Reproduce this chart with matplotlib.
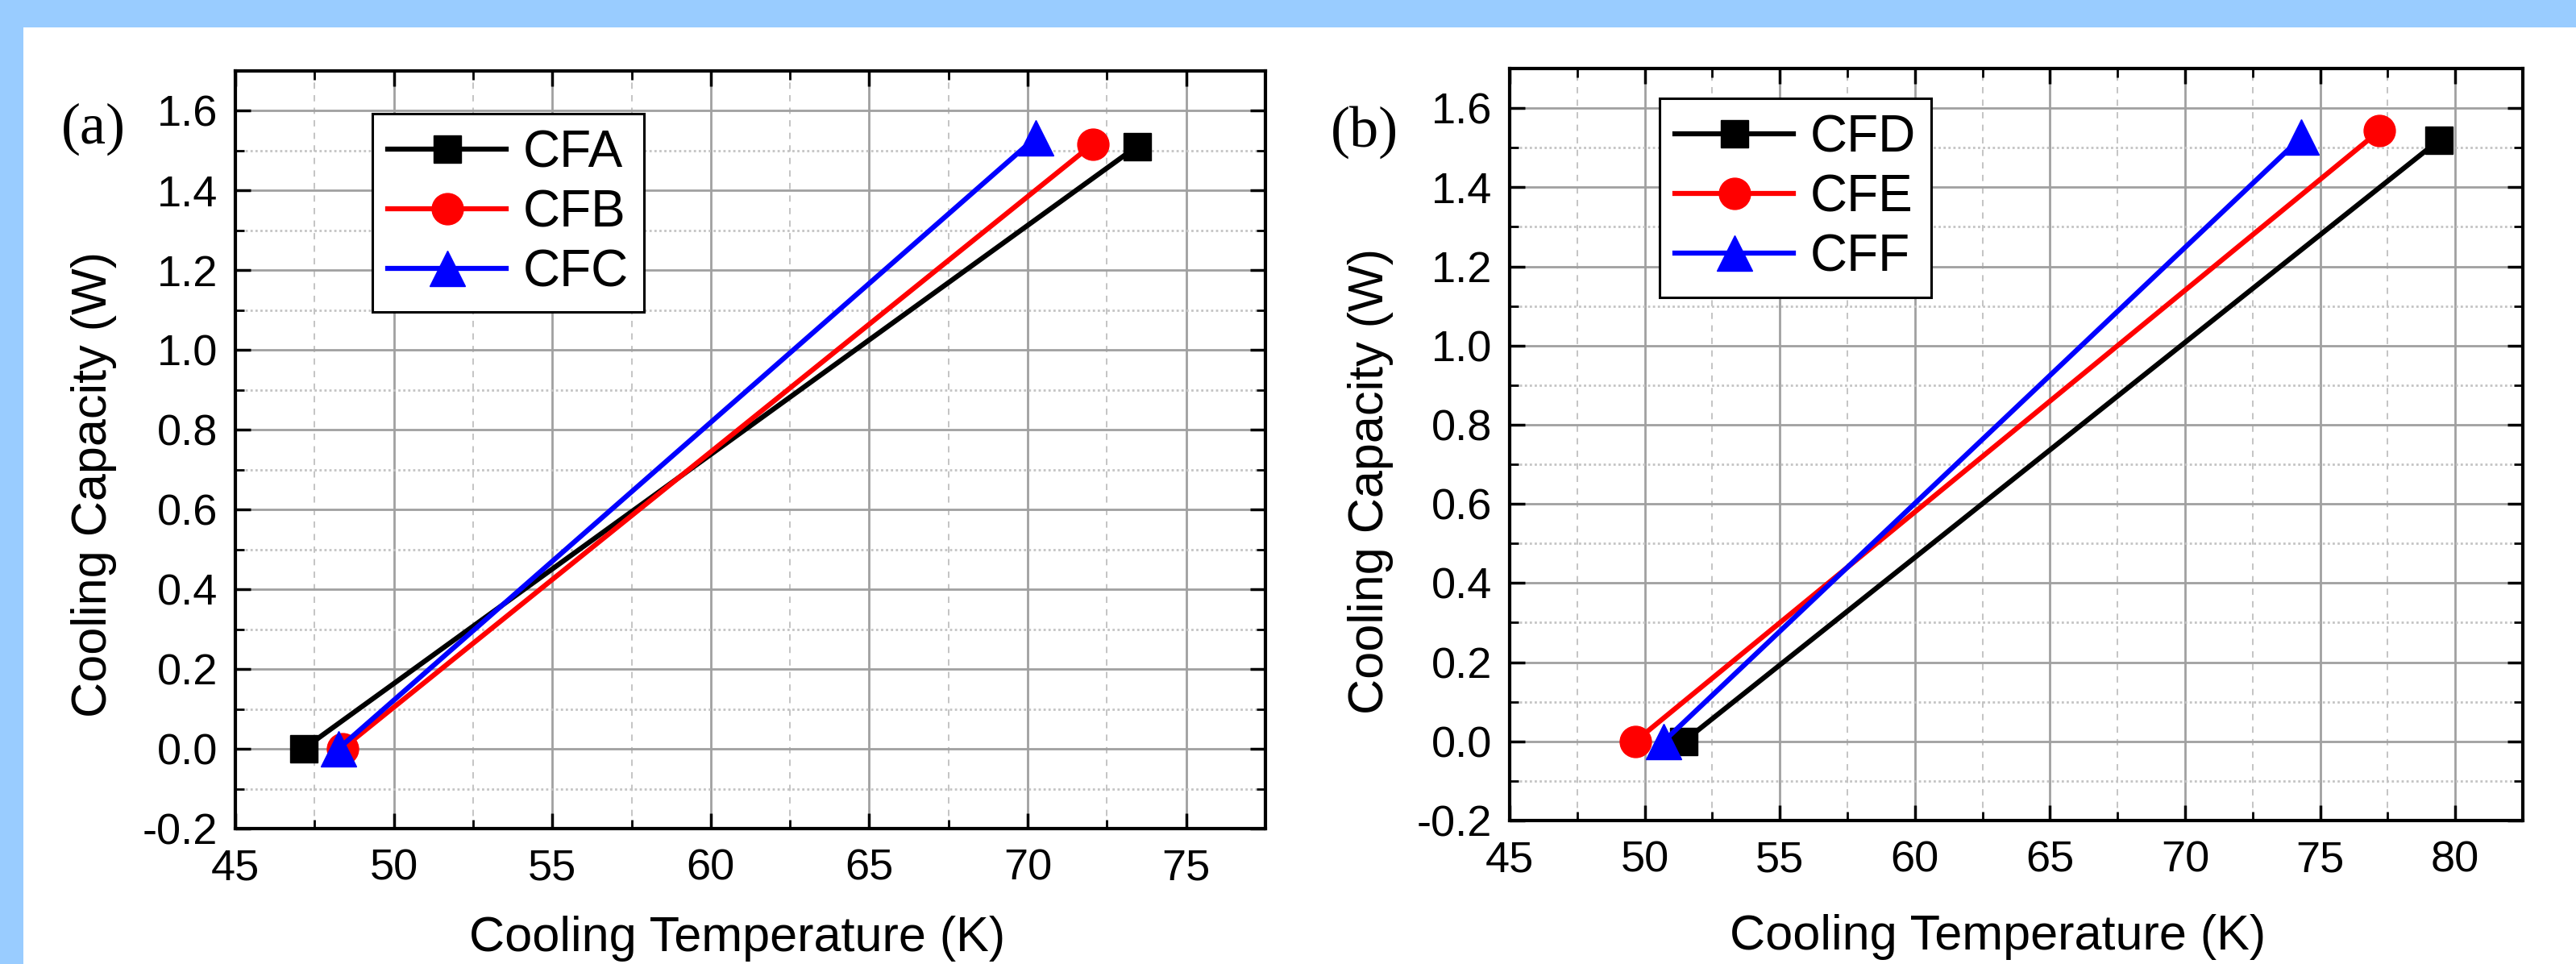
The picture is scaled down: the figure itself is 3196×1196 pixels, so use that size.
import matplotlib
matplotlib.use("Agg")
import matplotlib.pyplot as plt
from matplotlib.patches import Rectangle
from matplotlib.ticker import MultipleLocator

plt.rcParams['font.family'] = ['Liberation Sans', 'DejaVu Sans']

# ---- data ----
CFA_T = [47.15, 73.45]
CFA_Q = [0.0, 1.511]
CFB_T = [48.37, 72.06]
CFB_Q = [0.0, 1.517]
CFC_T = [48.25, 70.25]
CFC_Q = [0.0, 1.533]

CFD_T = [51.45, 79.4]
CFD_Q = [0.0, 1.519]
CFE_T = [49.65, 77.2]
CFE_Q = [0.0, 1.543]
CFF_T = [50.7, 74.3]
CFF_Q = [0.0, 1.526]

panel_a_names = ["CFA", "CFB", "CFC"]
panel_b_names = ["CFD", "CFE", "CFF"]
colors = ["black", "red", "blue"]
markers = ["s", "o", "^"]
msizes = [24, 28, 31]

W, H = 3196, 1196
fig = plt.figure(figsize=(W / 100, H / 100), dpi=100)
fig.patch.set_facecolor("white")
# light-blue frame (top and left strips)
fig.patches.append(Rectangle((0, 1 - 34 / H), 1, 34 / H, transform=fig.transFigure,
                             facecolor="#99CCFF", edgecolor="none", zorder=-10))
fig.patches.append(Rectangle((0, 0), 29 / W, 1, transform=fig.transFigure,
                             facecolor="#99CCFF", edgecolor="none", zorder=-10))


def px_axes(l, t, r, b):
    return [l / W, 1 - b / H, (r - l) / W, (b - t) / H]


axA = fig.add_axes(px_axes(292, 88, 1570, 1028))
axB = fig.add_axes(px_axes(1873, 85, 3130, 1018))


def style(ax, xmax, xticks):
    ax.set_xlim(45, xmax)
    ax.set_ylim(-0.2, 1.7)
    ax.set_xticks(xticks)
    ax.set_yticks([-0.2, 0.0, 0.2, 0.4, 0.6, 0.8, 1.0, 1.2, 1.4, 1.6])
    ax.xaxis.set_minor_locator(MultipleLocator(2.5))
    ax.yaxis.set_minor_locator(MultipleLocator(0.1))
    ax.set_yticklabels([f"{v:.1f}" for v in ax.get_yticks()])
    ax.grid(which="major", color="#a0a0a0", lw=2.0, ls="-", zorder=0)
    ax.grid(which="minor", axis="x", color="#c4c4c4", lw=1.4, ls=(0, (4, 4)), zorder=0)
    ax.grid(which="minor", axis="y", color="#c4c4c4", lw=2.0, ls=(0, (1, 1.2)), zorder=0)
    ax.set_axisbelow(True)
    ax.tick_params(which="both", direction="in", top=True, right=True, colors="black")
    ax.tick_params(which="major", length=14, width=2.5, labelsize=39)
    ax.tick_params(which="minor", length=8, width=2.0)
    ax.tick_params(axis="x", which="major", pad=18)
    ax.tick_params(axis="y", which="major", pad=16)
    for s in ax.spines.values():
        s.set_linewidth(3)
        s.set_color("black")


style(axA, 77.5, [45, 50, 55, 60, 65, 70, 75])
style(axB, 82.5, [45, 50, 55, 60, 65, 70, 75, 80])

for T, Q, name, c, m, ms in zip([CFA_T, CFB_T, CFC_T], [CFA_Q, CFB_Q, CFC_Q],
                                panel_a_names, colors, markers, msizes):
    axA.plot(T, Q, color=c, marker=m, markersize=ms, lw=4.5, label=name, zorder=3)

for T, Q, name, c, m, ms in zip([CFD_T, CFE_T, CFF_T], [CFD_Q, CFE_Q, CFF_Q],
                                panel_b_names, colors, markers, msizes):
    axB.plot(T, Q, color=c, marker=m, markersize=ms, lw=4.5, label=name, zorder=3)

for ax, anchor in [(axA, (0.133, 0.9436)), (axB, (0.148, 0.960))]:
    leg = ax.legend(loc="upper left", bbox_to_anchor=anchor, borderaxespad=0,
                    fontsize=46, frameon=True, fancybox=False, framealpha=1,
                    edgecolor="black", handlelength=2.3, handletextpad=0.32,
                    borderpad=0.3, labelspacing=0.22)
    leg.get_frame().set_linewidth(2.2)
    leg.set_zorder(5)

# axis labels
fig.text(915 / W, 1 - 1180 / H, "Cooling Temperature (K)", fontsize=44,
         ha="center", va="baseline")
fig.text(2479 / W, 1 - 1178 / H, "Cooling Temperature (K)", fontsize=44,
         ha="center", va="baseline")
fig.text(117 / W, 1 - 601 / H, "Cooling Capacity (W)", fontsize=44,
         ha="center", va="center", rotation=90)
fig.text(1701 / W, 1 - 597 / H, "Cooling Capacity (W)", fontsize=44,
         ha="center", va="center", rotation=90)

# panel labels
fig.text(116 / W, 1 - 160 / H, "(a)", fontsize=52, ha="center", va="center",
         family=["Liberation Serif", "DejaVu Serif"])
fig.text(1693 / W, 1 - 164 / H, "(b)", fontsize=52, ha="center", va="center",
         family=["Liberation Serif", "DejaVu Serif"])

fig.savefig("out.png", dpi=100, facecolor="white")
